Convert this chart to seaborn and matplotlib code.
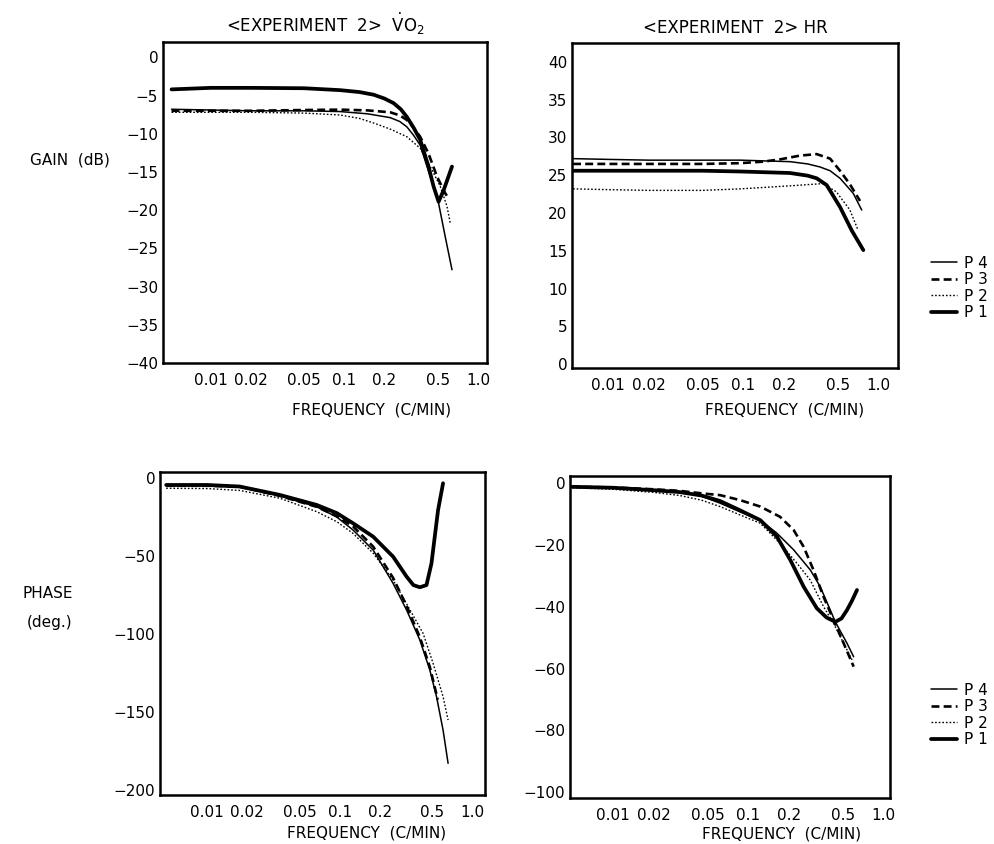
import numpy as np
import pandas as pd
import matplotlib
matplotlib.use("Agg")
import matplotlib.pyplot as plt
import matplotlib.ticker as mticker
from matplotlib.lines import Line2D
import seaborn as sns

# ---------------- data ----------------
# Top-left: VO2 gain (dB)
vo2_gain_p1_f = [0.0051, 0.01, 0.02, 0.05, 0.093, 0.13, 0.166, 0.2, 0.234, 0.265, 0.294, 0.33, 0.37, 0.427,
                 0.466, 0.508, 0.554, 0.64]
vo2_gain_p1 = [-4.2, -4.0, -4.0, -4.05, -4.3, -4.55, -4.9, -5.4, -6.0, -6.8, -7.8, -9.2, -10.8, -14.3,
               -16.9, -18.9, -17.4, -14.3]
vo2_gain_p4_f = [0.0051, 0.01, 0.02, 0.05, 0.093, 0.15, 0.221, 0.26, 0.294, 0.33, 0.37, 0.44, 0.508, 0.57, 0.64]
vo2_gain_p4 = [-6.8, -6.9, -7.0, -7.0, -7.1, -7.4, -7.9, -8.4, -9.1, -10.2, -11.5, -15.6, -19.1, -23.5, -27.8]
vo2_gain_p3_f = [0.0051, 0.01, 0.02, 0.05, 0.093, 0.15, 0.221, 0.26, 0.294, 0.33, 0.37, 0.427, 0.494, 0.57, 0.6]
vo2_gain_p3 = [-7.0, -7.0, -7.0, -6.9, -6.85, -6.95, -7.2, -7.6, -8.2, -9.2, -10.4, -12.6, -15.6, -17.8, -18.4]
vo2_gain_p2_f = [0.0051, 0.01, 0.02, 0.05, 0.093, 0.13, 0.166, 0.221, 0.294, 0.37, 0.44, 0.523, 0.587, 0.621]
vo2_gain_p2 = [-7.2, -7.2, -7.2, -7.3, -7.55, -8.0, -8.6, -9.4, -10.4, -11.9, -14.3, -16.9, -19.5, -21.7]

# Top-right: HR gain (dB)
hr_gain_p4_f = [0.0055, 0.01, 0.02, 0.05, 0.095, 0.222, 0.3, 0.37, 0.44, 0.521, 0.584, 0.653, 0.754]
hr_gain_p4 = [27.2, 27.1, 27.0, 27.0, 27.0, 26.8, 26.5, 26.1, 25.6, 24.6, 23.6, 22.6, 20.4]
hr_gain_p3_f = [0.0055, 0.01, 0.02, 0.05, 0.095, 0.14, 0.187, 0.263, 0.35, 0.44, 0.521, 0.617, 0.733]
hr_gain_p3 = [26.5, 26.5, 26.5, 26.5, 26.6, 26.8, 27.1, 27.6, 27.8, 27.2, 25.6, 23.8, 21.6]
hr_gain_p2_f = [0.0055, 0.01, 0.02, 0.05, 0.095, 0.222, 0.391, 0.49, 0.617, 0.71]
hr_gain_p2 = [23.2, 23.1, 23.0, 23.0, 23.2, 23.6, 23.9, 22.8, 20.4, 17.7]
hr_gain_p1_f = [0.0055, 0.01, 0.02, 0.05, 0.095, 0.222, 0.3, 0.35, 0.415, 0.521, 0.636, 0.775]
hr_gain_p1 = [25.6, 25.6, 25.6, 25.6, 25.5, 25.3, 24.95, 24.6, 23.7, 20.8, 17.7, 15.1]

# Bottom-left: VO2 phase (deg)
vo2_phase_p1_f = [0.0049, 0.01, 0.0176, 0.0354, 0.0671, 0.095, 0.126, 0.179, 0.253, 0.32, 0.36, 0.403,
                  0.452, 0.493, 0.522, 0.553, 0.603]
vo2_phase_p1 = [-4.5, -4.5, -5.5, -10.9, -17.3, -22.5, -29.0, -37.6, -50.4, -63.2, -68.6, -70.0,
                -68.6, -54.7, -37.6, -20.5, -3.4]
vo2_phase_p4_f = [0.0049, 0.01, 0.0176, 0.0354, 0.0671, 0.095, 0.126, 0.179, 0.253, 0.32, 0.403, 0.479,
                  0.538, 0.603, 0.658]
vo2_phase_p4 = [-5, -5, -5.8, -11.5, -18.5, -25, -33.3, -46.2, -67.5, -84.6, -103.8, -123, -140, -161.4, -182.7]
vo2_phase_p3_f = [0.0049, 0.01, 0.0176, 0.0354, 0.0671, 0.095, 0.126, 0.179, 0.253, 0.32, 0.403, 0.479, 0.55]
vo2_phase_p3 = [-5, -5, -5.6, -11.5, -18.5, -24.5, -31, -44, -64, -82, -102, -121, -142]
vo2_phase_p2_f = [0.0049, 0.01, 0.0176, 0.0354, 0.0671, 0.095, 0.126, 0.179, 0.253, 0.34, 0.426, 0.507,
                  0.603, 0.658]
vo2_phase_p2 = [-6.6, -6.8, -8, -13, -21.6, -28, -35.5, -48.2, -65.3, -84.6, -99.5, -118.7, -140, -155]

# Bottom-right: HR phase (deg)
hr_phase_p1_f = [0.005, 0.01, 0.02, 0.031, 0.045, 0.062, 0.087, 0.123, 0.163, 0.205, 0.257, 0.322, 0.38,
                 0.441, 0.49, 0.538, 0.587, 0.638]
hr_phase_p1 = [-1.2, -1.5, -2.3, -2.9, -4.0, -5.8, -8.8, -12.0, -17.3, -24.9, -33.5, -40.5, -43.5,
               -44.9, -43.8, -41.1, -38.0, -34.6]
hr_phase_p4_f = [0.005, 0.01, 0.02, 0.031, 0.045, 0.062, 0.087, 0.123, 0.163, 0.217, 0.288, 0.341, 0.405,
                 0.441, 0.538, 0.603]
hr_phase_p4 = [-1.2, -1.5, -2.3, -2.9, -4.2, -6.5, -9.3, -12.0, -16.2, -21.6, -28.1, -33.5, -41.1,
               -44.9, -51.8, -56.2]
hr_phase_p3_f = [0.005, 0.01, 0.02, 0.031, 0.045, 0.062, 0.087, 0.123, 0.172, 0.217, 0.257, 0.304, 0.361,
                 0.428, 0.508, 0.603]
hr_phase_p3 = [-1.2, -1.4, -2.0, -2.5, -3.3, -3.9, -5.5, -7.6, -10.9, -15.2, -20.6, -28.1, -36.8,
               -44.3, -51.8, -59.4]
hr_phase_p2_f = [0.005, 0.01, 0.02, 0.031, 0.045, 0.062, 0.087, 0.123, 0.172, 0.229, 0.288, 0.361, 0.428,
                 0.508, 0.587]
hr_phase_p2 = [-1.5, -2.0, -3.0, -4.0, -5.5, -7.6, -10.3, -13.0, -19.5, -25.9, -31.4, -40.0, -45.4,
               -51.8, -57.2]

xtick_vals = [0.01, 0.02, 0.05, 0.1, 0.2, 0.5, 1.0]
xtick_labels = ["0.01", "0.02", "0.05", "0.1", "0.2", "0.5", "1.0"]
series_names = ["P 4", "P 3", "P 2", "P 1"]

# ---------------- styling ----------------
sns.set_style("white")
plt.rcParams["font.family"] = ["DejaVu Sans"]
plt.rcParams["axes.unicode_minus"] = True
for k in ("text.color", "axes.labelcolor", "xtick.color", "ytick.color"):
    plt.rcParams[k] = "black"

styles = {
    "P 4": dict(linewidth=1.1, linestyle="-"),
    "P 3": dict(linewidth=1.9, linestyle=(0, (3.0, 1.6))),
    "P 2": dict(linewidth=1.0, linestyle=(0, (1.2, 1.4))),
    "P 1": dict(linewidth=2.7, linestyle="-"),
}

fig = plt.figure(figsize=(9.95, 8.44), dpi=100)
W, H = 995.0, 844.0

def make_ax(l, t, r, b):
    return fig.add_axes([l / W, 1 - b / H, (r - l) / W, (b - t) / H])

ax_tl = make_ax(163, 42, 487, 363)
ax_tr = make_ax(572, 43, 898, 368)
ax_bl = make_ax(160, 472, 485, 795)
ax_br = make_ax(570, 476, 890, 798)

panels = [
    (ax_tl, {"P 4": (vo2_gain_p4_f, vo2_gain_p4), "P 3": (vo2_gain_p3_f, vo2_gain_p3),
             "P 2": (vo2_gain_p2_f, vo2_gain_p2), "P 1": (vo2_gain_p1_f, vo2_gain_p1)},
     (-40, 2), np.arange(-40, 1, 5), (0.0044, 1.17), (0.645, -0.146)),
    (ax_tr, {"P 4": (hr_gain_p4_f, hr_gain_p4), "P 3": (hr_gain_p3_f, hr_gain_p3),
             "P 2": (hr_gain_p2_f, hr_gain_p2), "P 1": (hr_gain_p1_f, hr_gain_p1)},
     (-0.5, 42.5), np.arange(0, 41, 5), (0.0054, 1.4), (0.653, -0.13)),
    (ax_bl, {"P 4": (vo2_phase_p4_f, vo2_phase_p4), "P 3": (vo2_phase_p3_f, vo2_phase_p3),
             "P 2": (vo2_phase_p2_f, vo2_phase_p2), "P 1": (vo2_phase_p1_f, vo2_phase_p1)},
     (-203, 3.8), np.arange(-200, 1, 50), (0.0044, 1.25), (0.637, -0.118)),
    (ax_br, {"P 4": (hr_phase_p4_f, hr_phase_p4), "P 3": (hr_phase_p3_f, hr_phase_p3),
             "P 2": (hr_phase_p2_f, hr_phase_p2), "P 1": (hr_phase_p1_f, hr_phase_p1)},
     (-101.9, 2.3), np.arange(-100, 1, 20), (0.0048, 1.12), (0.66, -0.112)),
]

for ax, data, ylim, yticks, xlim, lab in panels:
    for name in ["P 2", "P 3", "P 4", "P 1"]:
        f, v = data[name]
        df = pd.DataFrame({"freq": f, "val": v})
        sns.lineplot(data=df, x="freq", y="val", ax=ax, color="black",
                     estimator=None, sort=False, **styles[name])
    ax.set_xscale("log")
    ax.set_xlim(*xlim)
    ax.set_ylim(*ylim)
    ax.set_yticks(yticks)
    ax.xaxis.set_major_locator(mticker.FixedLocator(xtick_vals))
    ax.xaxis.set_major_formatter(mticker.FixedFormatter(xtick_labels))
    ax.xaxis.set_minor_locator(mticker.LogLocator(base=10, subs=np.arange(2, 10)))
    ax.xaxis.set_minor_formatter(mticker.NullFormatter())
    ax.tick_params(axis="both", which="major", direction="in", length=5, width=1.3,
                   labelsize=11, colors="black")
    ax.tick_params(axis="x", which="minor", direction="in", length=3, width=1.0)
    ax.tick_params(axis="x", which="major", pad=7)
    for s in ax.spines.values():
        s.set_linewidth(1.8)
        s.set_color("black")
    ax.set_ylabel("")
    ax.set_xlabel("FREQUENCY  (C/MIN)", fontsize=11)
    ax.xaxis.label.set_verticalalignment("center")
    ax.xaxis.set_label_coords(*lab)

ax_tl.set_title(r"<EXPERIMENT  2>  $\dot{\mathrm{V}}\mathrm{O}_2$", fontsize=12, pad=7)
ax_tr.set_title("<EXPERIMENT  2> HR", fontsize=12, pad=7)

fig.text(70 / W, 1 - 160 / H, "GAIN  (dB)", ha="center", va="center", fontsize=11)
fig.text(48 / W, 1 - 593 / H, "PHASE", ha="center", va="center", fontsize=11)
fig.text(50 / W, 1 - 622 / H, "(deg.)", ha="center", va="center", fontsize=11)

handles = [Line2D([0], [0], color="black", **styles[n]) for n in series_names]
for yc in (1 - 288 / H, 1 - 715 / H):
    fig.legend(handles, series_names, loc="center left", bbox_to_anchor=(0.93, yc),
               frameon=False, fontsize=11, handlelength=1.7, handletextpad=0.4,
               labelspacing=0.1, borderaxespad=0)

fig.savefig("out.png", dpi=100, facecolor="white")
